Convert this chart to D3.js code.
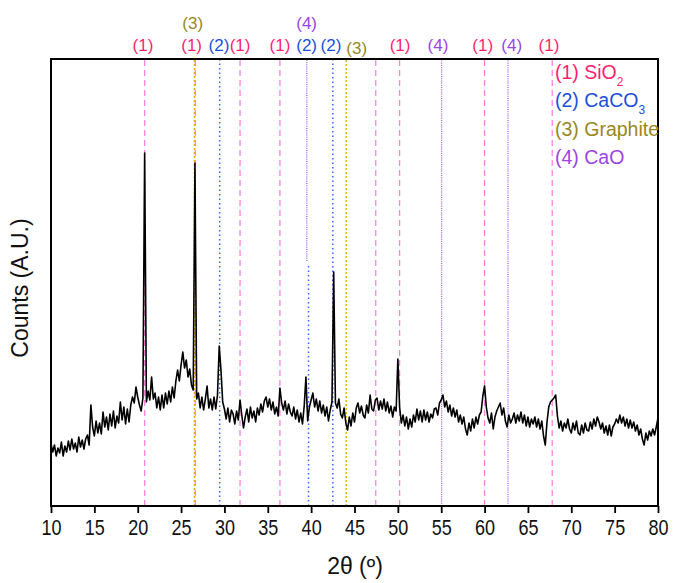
<!DOCTYPE html>
<html>
<head>
<meta charset="utf-8">
<script src="https://cdn.jsdelivr.net/npm/d3@7"></script>
<style>
  body { margin: 0; background: #fff; }
  svg { display: block; }
  text { font-family: "Liberation Sans", Arial, sans-serif; }
</style>
</head>
<body>
<svg id="chart" width="673" height="583"></svg>
<script>
// XRD scan, 10-80 deg 2theta, 0.2 deg step (counts in arbitrary units)
const scanStart = 10;
const scanStep = 0.2;
const counts = [
  62, 54, 61, 50, 58, 53, 64, 50, 60, 54,
  65, 56, 67, 57, 63, 54, 69, 59, 66, 57,
  67, 71, 61, 101, 79, 70, 85, 73, 83, 72,
  94, 79, 89, 76, 92, 80, 95, 78, 90, 83,
  104, 86, 99, 82, 97, 84, 101, 109, 103, 119,
  109, 101, 95, 108, 353, 104, 115, 106, 129, 107,
  113, 98, 109, 96, 111, 98, 113, 102, 115, 104,
  119, 108, 125, 136, 125, 141, 154, 138, 146, 129,
  137, 121, 116, 343, 107, 113, 98, 109, 96, 107,
  120, 98, 107, 96, 109, 97, 111, 160, 136, 104,
  97, 87, 98, 84, 96, 92, 82, 95, 86, 106,
  91, 78, 89, 97, 84, 99, 88, 95, 84, 98,
  91, 102, 94, 105, 109, 99, 107, 96, 104, 92,
  99, 90, 118, 103, 96, 105, 92, 102, 94, 90,
  99, 87, 96, 84, 93, 82, 100, 129, 85, 99,
  106, 113, 99, 107, 95, 105, 93, 101, 90, 99,
  85, 96, 104, 234, 103, 98, 107, 92, 88, 98,
  83, 76, 89, 80, 93, 84, 98, 103, 93, 100,
  91, 88, 101, 93, 111, 97, 95, 106, 108, 96,
  105, 97, 107, 95, 104, 93, 100, 89, 99, 95,
  147, 99, 83, 91, 80, 89, 77, 87, 79, 91,
  84, 97, 86, 95, 84, 96, 86, 94, 84, 92,
  88, 97, 98, 91, 103, 106, 111, 99, 105, 94,
  101, 90, 98, 89, 96, 84, 91, 82, 89, 77,
  71, 83, 75, 87, 78, 89, 82, 91, 94, 110,
  120, 99, 88, 83, 93, 77, 89, 95, 99, 103,
  91, 98, 85, 79, 91, 83, 87, 93, 83, 91,
  85, 94, 83, 91, 80, 89, 79, 87, 82, 89,
  79, 87, 77, 85, 70, 61, 84, 99, 104, 106,
  108, 111, 90, 78, 85, 75, 83, 78, 87, 77,
  73, 83, 76, 85, 73, 71, 81, 73, 83, 76,
  75, 84, 77, 87, 80, 89, 84, 77, 83, 73,
  80, 71, 81, 70, 79, 82, 87, 83, 91, 83,
  89, 80, 87, 78, 86, 78, 84, 75, 81, 71,
  77, 67, 61, 73, 66, 75, 70, 77, 71, 79,
  88
];

// reference peak positions (2theta) per phase
const sio2Peaks = [20.8, 26.64, 31.8, 36.4, 47.45, 50.2, 60.0, 67.8];
const caco3Peaks = [29.45, 42.5];
const graphitePeaks = [26.55, 44.05];
const caoPeaks = [55.05, 62.7];
// lines that only cover part of the height: [phase, 2theta, countsFrom, countsTo]
const partialLines = [[4, 39.5, 245, 447], [2, 39.7, 0, 241]];

// peak labels above the frame: [phase, 2theta]
const lowerLabels = [
  [1, 20.6], [1, 26.22], [2, 29.37], [1, 31.8], [1, 36.4], [2, 39.48], [2, 42.29],
  [3, 45.25], [1, 50.25], [4, 54.63], [1, 59.78], [4, 63.13], [1, 67.43]
];
const upperLabels = [[3, 26.34], [4, 39.48]];

const phaseNames = [['(1) SiO', '2'], ['(2) CaCO', '3'], ['(3) Graphite', ''], ['(4) CaO', '']];
const xTicks = [10, 15, 20, 25, 30, 35, 40, 45, 50, 55, 60, 65, 70, 75, 80];

// styles
const labelColors = { 1: '#ff1f6e', 2: '#1c4fdc', 3: '#9a871c', 4: '#9b45e4' };
const lineStyles = {
  1: { stroke: '#ff82e2', dash: '6,4', width: 1.3 },
  2: { stroke: '#3463ff', dash: '1.5,3', width: 1.5 },
  3: { stroke: '#e6b300', dash: '2,2', width: 1.6 },
  4: { stroke: '#a352f0', dash: '1,1.2', width: 1.2 }
};

const W = 673, H = 583;
const margin = { top: 59, right: 15, bottom: 77, left: 51 };

const svg = d3.select('#chart');
const x = d3.scaleLinear().domain([10, 80]).range([margin.left, W - margin.right]);
const y = d3.scaleLinear().domain([0, 447]).range([H - margin.bottom, margin.top]);

// reference lines
const refLines = [
  ...sio2Peaks.map(p => [1, p, 0, 447]),
  ...caco3Peaks.map(p => [2, p, 0, 447]),
  ...graphitePeaks.map(p => [3, p, 0, 447]),
  ...caoPeaks.map(p => [4, p, 0, 447]),
  ...partialLines
];
svg.append('g').selectAll('line').data(refLines).join('line')
  .attr('x1', d => x(d[1])).attr('x2', d => x(d[1]))
  .attr('y1', d => y(d[2])).attr('y2', d => y(d[3]))
  .attr('stroke', d => lineStyles[d[0]].stroke)
  .attr('stroke-width', d => lineStyles[d[0]].width)
  .attr('stroke-dasharray', d => lineStyles[d[0]].dash);

// trace
const points = counts.map((c, i) => [scanStart + i * scanStep, c]);
svg.append('path')
  .datum(points)
  .attr('fill', 'none')
  .attr('stroke', '#000')
  .attr('stroke-width', 1.6)
  .attr('stroke-linejoin', 'round')
  .attr('d', d3.line().x(d => x(d[0])).y(d => y(d[1])));

// frame
svg.append('rect')
  .attr('x', margin.left).attr('y', margin.top)
  .attr('width', W - margin.left - margin.right)
  .attr('height', H - margin.top - margin.bottom)
  .attr('fill', 'none').attr('stroke', '#000').attr('stroke-width', 2);

// x axis
const xAxis = svg.append('g')
  .attr('transform', `translate(0,${H - margin.bottom})`)
  .call(d3.axisBottom(x).tickValues(xTicks).tickSize(7).tickPadding(6).tickFormat(d3.format('d')));
xAxis.select('.domain').remove();
xAxis.selectAll('.tick line').attr('stroke', '#000').attr('stroke-width', 1.8);
xAxis.selectAll('.tick text')
  .attr('font-size', 22).attr('fill', '#111')
  .attr('font-family', '"Liberation Sans", Arial, sans-serif')
  .attr('transform', 'scale(0.82,1)');

svg.append('text')
  .attr('x', 355).attr('y', 574)
  .attr('text-anchor', 'middle').attr('font-size', 23).attr('fill', '#111')
  .text('2θ (º)');

svg.append('text')
  .attr('transform', 'translate(28,288) rotate(-90)')
  .attr('text-anchor', 'middle').attr('font-size', 23).attr('fill', '#111')
  .text('Counts (A.U.)');

// peak labels
svg.append('g').selectAll('text').data(lowerLabels).join('text')
  .attr('x', d => x(d[1]))
  .attr('y', d => d[0] === 3 ? 54 : 51)
  .attr('text-anchor', 'middle').attr('font-size', 17)
  .attr('fill', d => labelColors[d[0]])
  .text(d => `(${d[0]})`);
svg.append('g').selectAll('text').data(upperLabels).join('text')
  .attr('x', d => x(d[1]))
  .attr('y', 29)
  .attr('text-anchor', 'middle').attr('font-size', 17)
  .attr('fill', d => labelColors[d[0]])
  .text(d => `(${d[0]})`);

// legend
const legend = svg.append('g').selectAll('text').data(phaseNames).join('text')
  .attr('x', 555).attr('y', (d, i) => 79 + i * 28.3)
  .attr('font-size', 19.5)
  .attr('fill', (d, i) => labelColors[i + 1]);
legend.append('tspan').text(d => d[0]);
legend.append('tspan')
  .attr('font-size', 12).attr('dy', 7)
  .text(d => d[1]);
</script>
</body>
</html>
